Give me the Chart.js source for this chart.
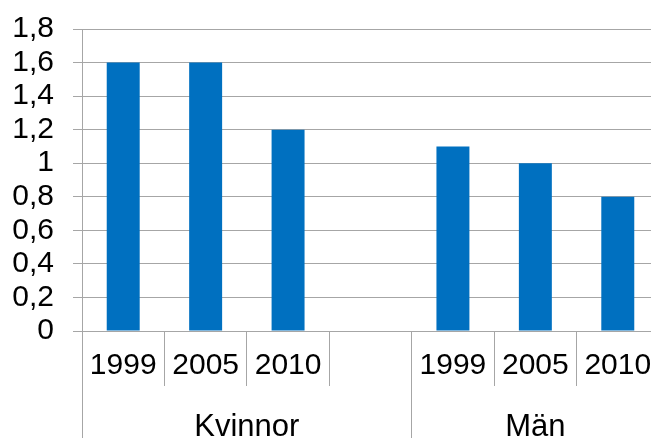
<!DOCTYPE html>
<html>
<head>
<meta charset="utf-8">
<script src="https://cdn.jsdelivr.net/npm/chart.js@4/dist/chart.umd.min.js"></script>
<style>
  html, body { margin: 0; padding: 0; background: #fff; overflow: hidden; }
  #wrap { width: 660px; height: 438px; position: relative; }
</style>
</head>
<body>
<div id="wrap"><canvas id="chart"></canvas></div>
<script>
// Data
const years = ['1999', '2005', '2010', '', '1999', '2005', '2010'];
const values = [1.6, 1.6, 1.2, null, 1.1, 1.0, 0.8];
const groups = ['Kvinnor', 'Män'];
const groupSizes = [4, 3];   // how many categories each group covers
const yTicks = [0, 0.2, 0.4, 0.6, 0.8, 1, 1.2, 1.4, 1.6, 1.8];

const FONT = '"Liberation Sans", Arial, sans-serif';
const GRID = '#a6a6a6';

// Draws the second level of the category axis (group names + long separators)
const groupAxis = {
    id: 'groupAxis',
    afterDraw(chart) {
        const ctx = chart.ctx;
        const x = chart.scales.x;
        const bottom = chart.chartArea.bottom;
        const half = (x.getPixelForValue(1) - x.getPixelForValue(0)) / 2;
        const align = (Chart.helpers && Chart.helpers._alignPixel)
            ? v => Chart.helpers._alignPixel(chart, v, 1)
            : v => Math.round(v) + 0.5;
        ctx.save();
        ctx.strokeStyle = GRID;
        ctx.lineWidth = 1;
        ctx.fillStyle = '#000';
        ctx.font = '31px ' + FONT;
        ctx.textAlign = 'center';
        ctx.textBaseline = 'middle';
        let start = 0;
        groups.forEach((name, i) => {
            const end = start + groupSizes[i] - 1;
            const left = x.getPixelForValue(start) - half;
            const right = x.getPixelForValue(end) + half;
            ctx.beginPath();
            ctx.moveTo(align(left), bottom);
            ctx.lineTo(align(left), chart.height);
            ctx.stroke();
            ctx.fillText(name, (left + right) / 2, bottom + 96);
            start = end + 1;
        });
        ctx.restore();
    }
};

new Chart(document.getElementById('chart'), {
    type: 'bar',
    data: {
        labels: years,
        datasets: [{
            data: values,
            backgroundColor: '#0070c0',
            barPercentage: 0.4,
            categoryPercentage: 1
        }]
    },
    options: {
        responsive: true,
        maintainAspectRatio: false,
        animation: false,
        layout: { padding: { top: 29, right: 1, left: 0, bottom: 0 } },
        plugins: { legend: { display: false }, tooltip: { enabled: false } },
        scales: {
            x: {
                offset: true,
                grid: {
                    offset: true,
                    drawOnChartArea: false,
                    color: GRID,
                    tickLength: 55
                },
                border: { color: GRID },
                ticks: {
                    color: '#000',
                    font: { family: FONT, size: 30 },
                    padding: -38,
                    maxRotation: 0,
                    autoSkip: false
                },
                afterFit(scale) {
                    scale.height = 107;
                    scale.paddingLeft = 0;
                    scale.paddingRight = 0;
                }
            },
            y: {
                min: 0,
                max: 1.8,
                afterBuildTicks(scale) {
                    scale.ticks = yTicks.map(v => ({ value: v }));
                },
                grid: { color: GRID, tickLength: 9 },
                border: { color: GRID },
                ticks: {
                    color: '#000',
                    font: { family: FONT, size: 30 },
                    padding: 19,
                    autoSkip: false,
                    callback: v => String(v).replace('.', ',')
                },
                afterFit(scale) {
                    scale.width = 82;
                    scale.paddingTop = 0;
                    scale.paddingBottom = 0;
                }
            }
        }
    },
    plugins: [groupAxis]
});
</script>
</body>
</html>
